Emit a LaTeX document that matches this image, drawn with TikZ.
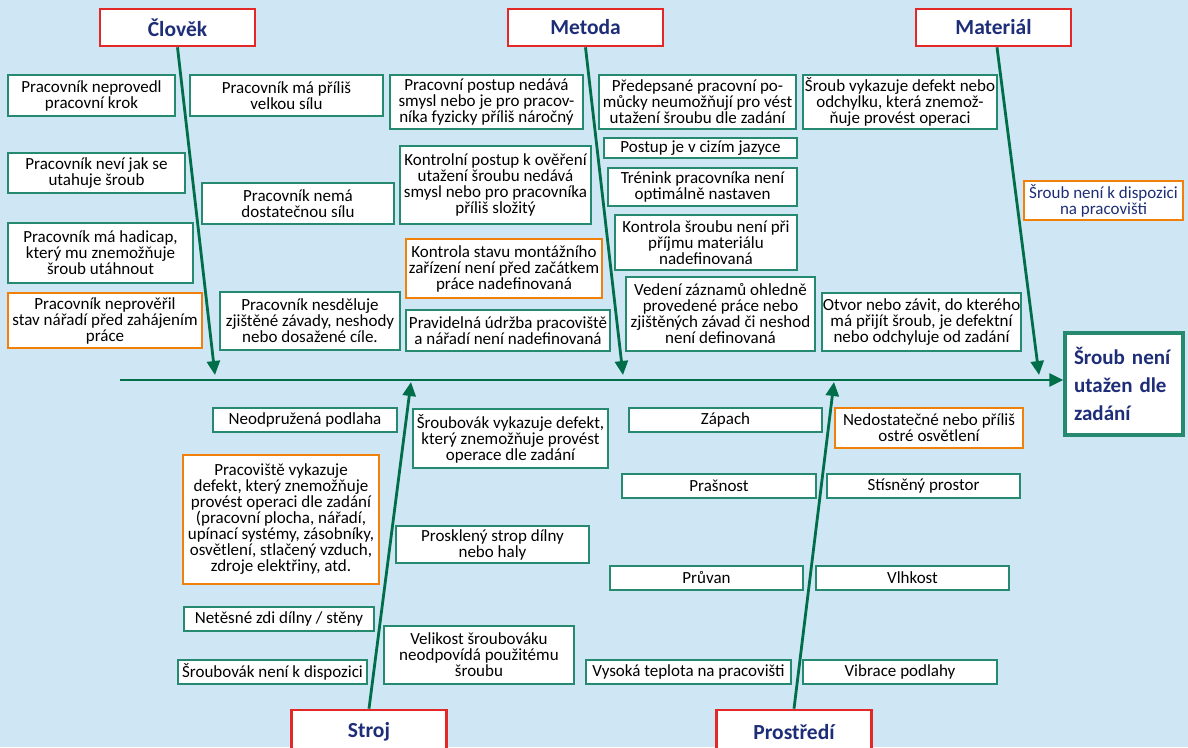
\documentclass[tikz,border=0pt]{standalone}
\usepackage{fontspec}
\setmainfont{Carlito}
\usetikzlibrary{arrows.meta}
\definecolor{bgblue}{RGB}{207,230,245}
\definecolor{bonegreen}{RGB}{0,110,72}
\definecolor{causeteal}{RGB}{38,138,112}
\definecolor{headred}{RGB}{228,40,40}
\definecolor{warnorange}{RGB}{240,128,10}
\definecolor{navytext}{RGB}{30,45,120}
\tikzset{
  box size/.style 2 args={minimum width=#1pt,minimum height=#2pt},
  cause/.style={draw=causeteal,fill=white,line width=1.6pt,align=center,
    inner sep=0pt,font=\fontsize{17}{16}\selectfont},
  warn/.style={cause,draw=warnorange},
  head/.style={draw=headred,fill=white,line width=2.6pt,inner sep=0pt,
    text=navytext,font=\fontsize{21.5}{24}\selectfont\bfseries,box size={155}{37}},
  effect/.style={draw=causeteal,fill=white,line width=3.5pt,align=left,
    text=navytext,font=\fontsize{21}{28}\selectfont\bfseries},
  bone/.style={draw=bonegreen,line width=2.8pt,-{Triangle[length=14pt,width=13pt]}},
}
\begin{document}
\begin{tikzpicture}[x=1pt,y=-1pt]
  \useasboundingbox (0,0) rectangle (1188,747);
  \fill[bgblue] (0,0) rectangle (1188,747);

  % main categories
  \node[head] (clovek) at (177.5,27.5) {Člověk};
  \node[head] (metoda) at (585.5,27.5) {Metoda};
  \node[head] (material) at (993.5,27.5) {Materiál};
  \node[head,minimum height=44pt] (stroj) at (369,732) {Stroj};
  \node[head,minimum height=44pt] (prostredi) at (794,732) {Prostředí};

  % effect
  \node[effect,box size={118}{102},text width=100pt] (sroub) at (1124,384)
    {Šroub není\\utažen dle\\zadání};

  % spine and bones
  \coordinate (spine start) at (120,380);
  \coordinate (clovek end) at (215,375);
  \coordinate (metoda end) at (623,375);
  \coordinate (material end) at (1039,375);
  \coordinate (stroj end) at (411,382);
  \coordinate (prostredi end) at (834,382);
  \draw[bone] (spine start) -- (spine start -| sroub.west);
  \draw[bone] (clovek.south) -- (clovek end);
  \draw[bone] (metoda.south) -- (metoda end);
  \draw[bone] ([xshift=3.5pt]material.south) -- (material end);
  \draw[bone] (stroj.north) -- (stroj end);
  \draw[bone] (prostredi.north) -- (prostredi end);

  % Clovek
  \node[cause,box size={167}{41}] (clovek1) at (91.5,95.5) {Pracovník neprovedl\\pracovní krok};
  \node[cause,box size={177}{40}] (clovek2) at (96.5,173) {Pracovník neví jak se\\utahuje šroub};
  \node[cause,box size={185}{60}] (clovek3) at (100.5,253) {Pracovník má hadicap,\\který mu znemožňuje\\šroub utáhnout};
  \node[warn,box size={194}{55}] (clovek4) at (105,320.5) {Pracovník neprověřil\\stav nářadí před zahájením\\práce};
  \node[cause,box size={193}{41}] (clovek5) at (286.5,95.5) {Pracovník má příliš\\velkou sílu};
  \node[cause,box size={192}{41}] (clovek6) at (298,203.5) {Pracovník nemá\\dostatečnou sílu};
  \node[cause,box size={180}{58}] (clovek7) at (310,321) {Pracovník nesděluje\\zjištěné závady, neshody\\nebo dosažené cíle.};

  % Metoda
  \node[cause,box size={193}{54}] (metoda1) at (486.5,102) {Pracovní postup nedává\\smysl nebo je pro pracov-\\níka fyzicky příliš náročný};
  \node[cause,box size={191}{78}] (metoda2) at (495.5,185) {Kontrolní postup k ověření\\utažení šroubu nedává\\smysl nebo pro pracovníka\\příliš složitý};
  \node[warn,box size={196}{59}] (metoda3) at (504,268.5) {Kontrola stavu montážního\\zařízení není před začátkem\\práce nadefinovaná};
  \node[cause,box size={204}{41}] (metoda4) at (508,330.5) {Pravidelná údržba pracoviště\\a nářadí není nadefinovaná};
  \node[cause,box size={197}{54}] (metoda5) at (697.5,102) {Předepsané pracovní po-\\můcky neumožňují pro vést\\utažení šroubu dle zadání};
  \node[cause,box size={193}{20}] (metoda6) at (700.5,148) {Postup je v cizím jazyce};
  \node[cause,box size={189}{38}] (metoda7) at (702.5,187) {Trénink pracovníka není\\optimálně nastaven};
  \node[cause,box size={182}{55}] (metoda8) at (706,242.5) {Kontrola šroubu není při\\příjmu materiálu\\nadefinovaná};
  \node[cause,box size={189}{74}] (metoda9) at (720.5,314) {Vedení záznamů ohledně\\provedené práce nebo\\zjištěných závad či neshod\\není definovaná};

  % Material
  \node[cause,box size={194}{54}] (material1) at (900,102) {Šroub vykazuje defekt nebo\\odchylku, která znemož-\\ňuje provést operaci};
  \node[warn,box size={159}{39},text=navytext] (material2) at (1103.5,200.5) {Šroub není k dispozici\\na pracovišti};
  \node[cause,box size={199}{58}] (material3) at (921.5,322) {Otvor nebo závit, do kterého\\má přijít šroub, je defektní\\nebo odchyluje od zadání};

  % Stroj
  \node[cause,box size={184}{24}] (stroj1) at (305,420) {Neodpružená podlaha};
  \node[warn,box size={196}{129}] (stroj2) at (281,519.5) {Pracoviště vykazuje\\defekt, který znemožňuje\\provést operaci dle zadání\\(pracovní plocha, nářadí,\\upínací systémy, zásobníky,\\osvětlení, stlačený vzduch,\\zdroje elektřiny, atd.};
  \node[cause,box size={190}{24}] (stroj3) at (279,619) {Netěsné zdi dílny / stěny};
  \node[cause,box size={189}{24}] (stroj4) at (272.5,672) {Šroubovák není k dispozici};
  \node[cause,box size={195}{59}] (stroj5) at (510.5,438.5) {Šroubovák vykazuje defekt,\\který znemožňuje provést\\operace dle zadání};
  \node[cause,box size={193}{37}] (stroj6) at (492.5,544.5) {Prosklený strop dílny\\nebo haly};
  \node[cause,box size={190}{58}] (stroj7) at (479,655) {Velikost šroubováku\\neodpovídá použitému\\šroubu};

  % Prostredi
  \node[cause,box size={193}{24}] (prostredi1) at (725.5,420) {Zápach};
  \node[warn,box size={188}{40}] (prostredi2) at (929,428) {Nedostatečné nebo příliš\\ostré osvětlení};
  \node[cause,box size={194}{24}] (prostredi3) at (719,486) {Prašnost};
  \node[cause,box size={193}{24}] (prostredi4) at (923.5,486) {Stísněný prostor};
  \node[cause,box size={193}{24}] (prostredi5) at (706.5,578) {Průvan};
  \node[cause,box size={193}{24}] (prostredi6) at (912.5,578) {Vlhkost};
  \node[cause,box size={205}{24}] (prostredi7) at (688.5,672) {Vysoká teplota na pracovišti};
  \node[cause,box size={194}{24}] (prostredi8) at (900,672) {Vibrace podlahy};
\end{tikzpicture}
\end{document}
